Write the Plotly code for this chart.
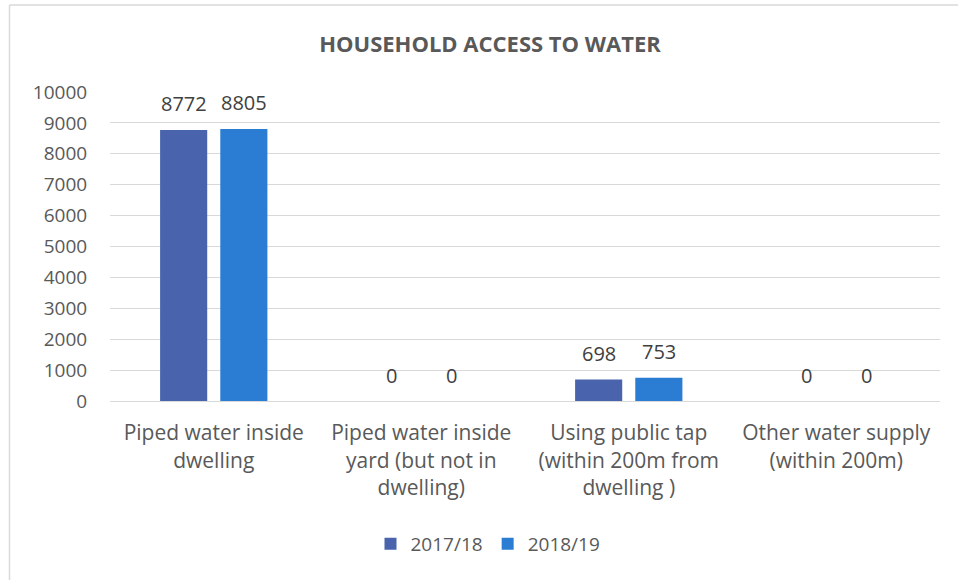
import plotly.graph_objects as go

categories = [
    "Piped water inside<br>dwelling",
    "Piped water inside<br>yard (but not in<br>dwelling)",
    "Using public tap<br>(within 200m from<br>dwelling )",
    "Other water supply<br>(within 200m)",
]
series_names = ["2017/18", "2018/19"]
values_2017 = [8772, 0, 698, 0]
values_2018 = [8805, 0, 753, 0]
y_ticks = list(range(0, 10001, 1000))
y_tick_labels = [str(v) for v in y_ticks]

colors = ["#4964AC", "#2A7DD3"]
FONT = "Open Sans"
GREY = "#595959"

W, H = 958, 580
L, R, T, B = 110, 18, 92, 179

fig = go.Figure()
for name, vals, col in zip(series_names, [values_2017, values_2018], colors):
    fig.add_trace(go.Bar(
        x=categories, y=vals, name=name,
        marker=dict(color=col, line=dict(width=0)),
    ))

# data labels
annotations = []
for vals, shift in zip([values_2017, values_2018], [-30, 30]):
    for c, v in zip(categories, vals):
        annotations.append(dict(
            x=c, y=v, xref="x", yref="y", text=str(v), showarrow=False,
            xshift=shift, yshift=26, yanchor="middle", xanchor="center",
            font=dict(family=FONT, size=20, color="#404040"),
        ))

pw = W - L - R
ph = H - T - B
def px_x(x):
    return (x - L) / pw
def px_y(y):
    return (H - B - y) / ph

fig.update_layout(
    width=W, height=H,
    margin=dict(l=L, r=R, t=T, b=B),
    paper_bgcolor="white", plot_bgcolor="white",
    barmode="group", bargap=0.42, bargroupgap=0.217,
    title=dict(text="<b>HOUSEHOLD ACCESS TO WATER</b>", x=490 / W, y=1 - 44 / H,
               xanchor="center", yanchor="middle",
               font=dict(family=FONT, size=22, color=GREY)),
    font=dict(family=FONT, color=GREY),
    xaxis=dict(tickfont=dict(family=FONT, size=21, color=GREY), showline=False,
               ticks="outside", ticklen=13, tickcolor="rgba(0,0,0,0)", showgrid=False),
    yaxis=dict(range=[0, 10000], tickvals=y_ticks, ticktext=y_tick_labels,
               tickfont=dict(family=FONT, size=19, color=GREY),
               showgrid=True, gridcolor="#D9D9D9", gridwidth=1,
               zeroline=True, zerolinecolor="#D9D9D9", zerolinewidth=1,
               showline=False, ticks="outside", ticklen=18,
               tickcolor="rgba(0,0,0,0)"),
    legend=dict(orientation="h", x=px_x(488), y=px_y(544), xanchor="center",
                yanchor="middle", font=dict(family=FONT, size=19, color=GREY),
                itemwidth=30),
    showlegend=True,
    annotations=annotations,
    shapes=[
        dict(type="line", xref="paper", yref="paper",
             x0=px_x(9.5), x1=px_x(9.5), y0=px_y(5), y1=px_y(580),
             line=dict(color="#D9D9D9", width=1.5)),
        dict(type="line", xref="paper", yref="paper",
             x0=px_x(9.5), x1=px_x(958), y0=px_y(5), y1=px_y(5),
             line=dict(color="#D9D9D9", width=1.5)),
    ],
)

fig.write_html("out.html", config={"displayModeBar": False},
               post_script="document.body.style.margin='0';")
